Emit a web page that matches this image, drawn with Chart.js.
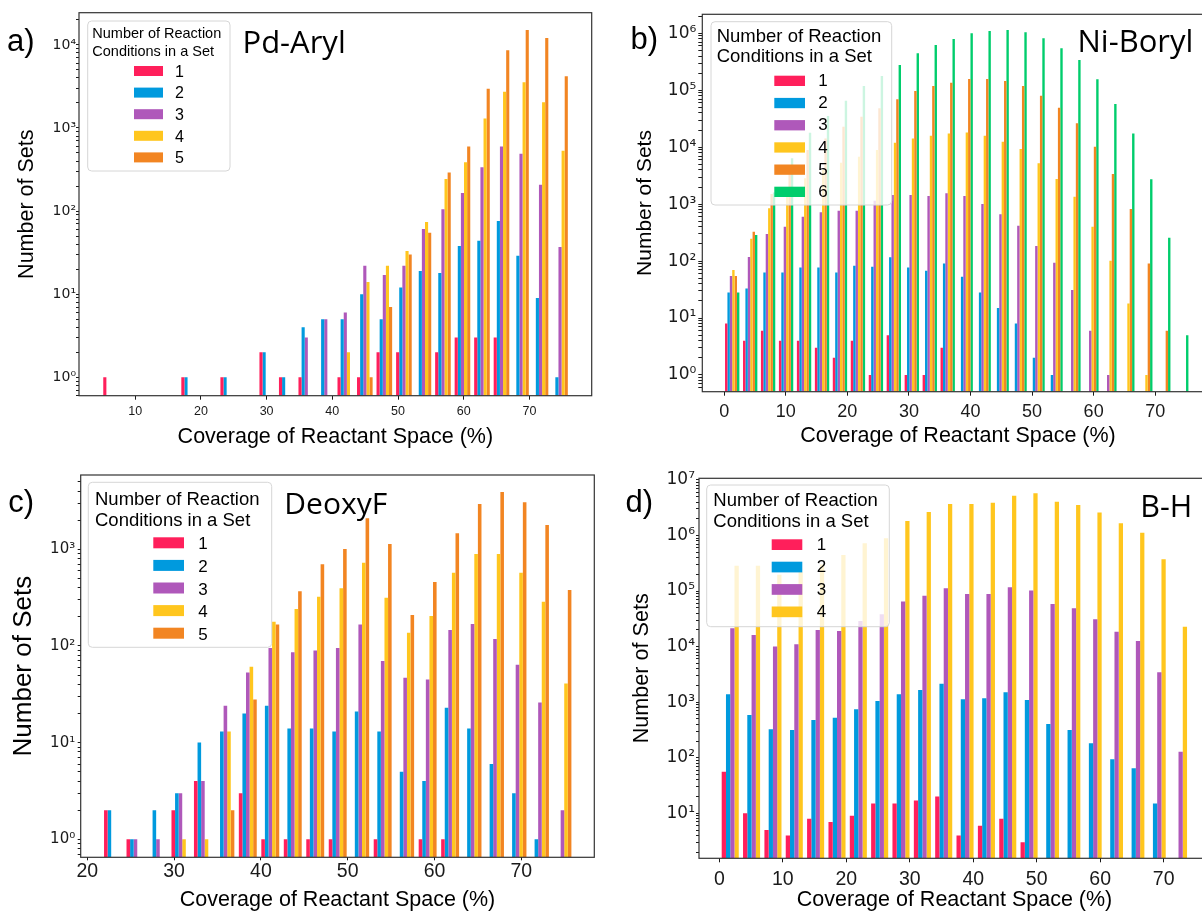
<!DOCTYPE html>
<html>
<head>
<meta charset="utf-8">
<script src="https://cdn.jsdelivr.net/npm/chart.js@4.4.1/dist/chart.umd.min.js"></script>
<style>
  html, body { margin: 0; padding: 0; background: #fff; overflow: hidden; }
  body { width: 1202px; height: 911px; position: relative; }
  .panel { position: absolute; }
  .panel canvas { display: block; }
  .tag { position: absolute; font-family: "Liberation Sans", Arial, sans-serif; line-height: 1; color: #000; white-space: nowrap; }
  .name { position: absolute; font-family: "Open Sans", sans-serif; line-height: 1; color: #000; white-space: nowrap; }
</style>
</head>
<body>
<div class="panel" style="left:0;top:0"><canvas id="ca" width="600" height="450"></canvas></div>
<div class="panel" style="left:600px;top:0"><canvas id="cb" width="622" height="450"></canvas></div>
<div class="panel" style="left:0;top:450px"><canvas id="cc" width="600" height="461"></canvas></div>
<div class="panel" style="left:600px;top:450px"><canvas id="cd" width="622" height="461"></canvas></div>

<div class="tag" style="left:7px;top:24.7px;font-size:31px">a)</div>
<div class="tag" style="left:630.5px;top:23.1px;font-size:31px">b)</div>
<div class="tag" style="left:8.3px;top:486.4px;font-size:31px">c)</div>
<div class="tag" style="left:625.5px;top:486.4px;font-size:31px">d)</div>
<div class="name" style="left:242.5px;top:26.3px;font-size:31px">Pd-Aryl</div>
<div class="name" style="left:1077.5px;top:25.3px;font-size:31px">Ni-Boryl</div>
<div class="name" style="left:284.3px;top:487.5px;font-size:30px">DeoxyF</div>
<div class="name" style="left:1140.2px;top:489.7px;font-size:30.5px">B-H</div>

<script>
/* ------------------------------- Data ------------------------------- */
const setLabels = ['1', '2', '3', '4', '5', '6'];
const setColors = ['#FF1F5B', '#009ADE', '#AF58BA', '#FFC61E', '#F28522', '#00CD6C'];

// a) Pd-Aryl, bin centres (% coverage)
const pdArylBins = [6.33, 9.30, 12.27, 15.24, 18.21, 21.19, 24.16, 27.13, 30.10, 33.07, 36.04, 39.01,
    41.98, 44.95, 47.92, 50.90, 53.87, 56.84, 59.81, 62.78, 65.75, 68.72, 71.69, 74.66];
const pdAryl1 = [1, null, null, null, 1, null, 1, null, 2, 1, 1, null, 1, 1, 2, 2, null, 2, 3, 3, 3, null, null, null];
const pdAryl2 = [null, null, null, null, 1, null, 1, null, 2, 1, 4, 5, 5, 10, 5, 12, 19, 18, 38, 44, 76, 29, 9, 1];
const pdAryl3 = [null, null, null, null, null, null, null, null, null, null, 3, 5, 6, 22, 17, 22, 61, 105, 165, 338, 598, 488, 207, 37];
const pdAryl4 = [null, null, null, null, null, null, null, null, null, null, null, null, 2, 14, 22, 33, 74, 244, 388, 1297, 2737, 3550, 2040, 531];
const pdAryl5 = [null, null, null, null, null, null, null, null, null, null, null, null, null, 1, 7, 30, 55, 291, 598, 2976, 8610, 15100, 12100, 4190];

// b) Ni-Boryl
const niBorylBins = [1.30, 4.22, 7.13, 10.05, 12.97, 15.89, 18.80, 21.72, 24.64, 27.55, 30.47, 33.39, 36.30,
    39.22, 42.14, 45.06, 47.97, 50.89, 53.81, 56.72, 59.64, 62.56, 65.47, 68.39, 71.31, 74.23];
const niBoryl1 = [8, 4, 6, 4, 4, 3, 2, 4, 1, 5, 1, 1, 3, null, null, null, null, null, null, null, null, null, null, null, null, null];
const niBoryl2 = [28, 33, 63, 63, 77, 77, 63, 83, 80, 117, 77, 68, 91, 53, 28, 15, 8, 2, 1, null, null, null, null, null, null, null];
const niBoryl3 = [55, 118, 299, 402, 603, 719, 767, 767, 1150, 1450, 1450, 1390, 1550, 1390, 1010, 664, 419, 184, 94, 31, 6, 1, null, null, null, null];
const niBoryl4 = [70, 248, 845, 1570, 2840, 4000, 5350, 6820, 8930, 12000, 14300, 15900, 17500, 18200, 15900, 12500, 9300, 5210, 2770, 1350, 402, 102, 18, 1, null, null];
const niBoryl5 = [55, 329, 1510, 3500, 8930, 14300, 22900, 34300, 48200, 69300, 97000, 119000, 136000, 158000, 158000, 145000, 119000, 80300, 49400, 26300, 10200, 3380, 822, 91, 6, null];
const niBoryl6 = [28, 287, 1600, 6390, 18000, 35300, 65600, 119000, 178000, 278000, 446000, 623000, 796000, 1000000, 1100000, 1140000, 1050000, 817000, 545000, 340000, 156000, 57400, 17500, 2730, 258, 5];

// c) DeoxyF
const deoxyFBins = [22.96, 25.55, 28.14, 30.73, 33.32, 35.91, 38.49, 41.08, 43.67, 46.26, 48.85,
    51.44, 54.03, 56.62, 59.21, 61.80, 64.38, 66.97, 69.56, 72.15, 74.74];
const deoxyF1 = [2, 1, null, 2, 4, null, 3, 1, 1, 1, 1, null, 1, null, 1, 1, null, null, null, null, null];
const deoxyF2 = [2, 1, 2, 3, 10, 13, 20, 24, 14, 14, 13, 21, 13, 5, 4, 23, 14, 6, 3, 1, null];
const deoxyF3 = [null, 1, 1, 3, 4, 24, 53, 95, 86, 90, 95, 167, 70, 47, 45, 146, 169, 118, 64, 26, 2];
const deoxyF4 = [null, null, null, 1, 1, 13, 61, 178, 241, 323, 395, 727, 316, 137, 204, 573, 894, 894, 573, 287, 41];
const deoxyF5 = [null, null, null, null, null, 2, 28, 167, 368, 700, 1007, 2090, 1134, 209, 459, 1463, 2940, 3917, 3060, 1783, 379];

// d) B-H
const bhBins = [1.72, 5.08, 8.45, 11.81, 15.17, 18.54, 21.90, 25.26, 28.62, 31.99, 35.35, 38.71,
    42.08, 45.44, 48.80, 52.17, 55.53, 58.89, 62.25, 65.62, 68.98, 72.34];
const bh1 = [56, 10, 5, 4, 8, 7, 9, 15, 15, 17, 20, 4, 6, 8, 3, null, null, null, null, null, null, null];
const bh2 = [1390, 589, 325, 316, 480, 526, 745, 1050, 1390, 1660, 2150, 1130, 1175, 1510, 1100, 405, 316, 182, 94, 65, 15, null];
const bh3 = [21400, 16200, 10000, 11000, 20000, 19100, 29000, 38200, 64600, 82600, 112000, 88700, 88700, 117000, 102000, 58600, 49000, 31000, 18600, 12600, 3450, 128];
const bh4 = [286000, 286000, 197000, 220000, 300000, 447000, 725000, 891000, 1830000, 2650000, 3700000, 3700000, 3900000, 5200000, 5760000, 4060000, 3550000, 2580000, 1660000, 1120000, 374000, 22900];

/* ------------------------------ Helpers ----------------------------- */
const ink = '#1a1a1a';
const sans = '"Liberation Sans", Arial, sans-serif';
const mathSans = '"DejaVu Sans", sans-serif';
const supDigits = { '0': '⁰', '1': '¹', '2': '²', '3': '³', '4': '⁴', '5': '⁵', '6': '⁶', '7': '⁷', '8': '⁸', '9': '⁹', '-': '⁻' };

const logLabel = (v) => {
    const e = Math.round(Math.log10(v));
    if (Math.abs(v - Math.pow(10, e)) > 1e-9 * v) return '';
    return '10' + String(e).split('').map(c => supDigits[c]).join('');
};

// 1..9 x 10^n inside the axis range, like matplotlib's log locator
const logTicks = (axis) => {
    const ticks = [];
    for (let e = Math.floor(Math.log10(axis.min)); e <= Math.ceil(Math.log10(axis.max)); e++) {
        for (let m = 1; m < 10; m++) {
            const v = m * Math.pow(10, e);
            if (v >= axis.min && v <= axis.max) ticks.push({ value: v, major: m === 1 });
        }
    }
    axis.ticks = ticks;
};

// legend box + axes frame, drawn over the bars
const makeDecor = (L) => ({
    id: 'decor',
    afterDatasetsDraw(chart) {
        const { ctx, chartArea: a } = chart;
        ctx.save();
        ctx.beginPath();
        ctx.roundRect(L.x, L.y, L.w, L.h, 4);
        ctx.fillStyle = 'rgba(255,255,255,0.8)';
        ctx.fill();
        ctx.strokeStyle = '#d6d6d6';
        ctx.lineWidth = 1;
        ctx.stroke();

        ctx.textAlign = 'left';
        ctx.textBaseline = 'alphabetic';
        ctx.fillStyle = '#000';
        ctx.font = `${L.titleSize}px ${sans}`;
        L.title.forEach((t, i) => ctx.fillText(t, L.titleX, L.titleY + i * L.titleStep));

        ctx.font = `${L.labelSize}px ${sans}`;
        chart.data.datasets.forEach((ds, i) => {
            ctx.fillStyle = ds.backgroundColor;
            ctx.fillRect(L.swX, L.swY + i * L.step, L.swW, L.swH);
            ctx.fillStyle = '#000';
            ctx.fillText(ds.label, L.labelX, L.labelY + i * L.step);
        });

        ctx.strokeStyle = '#333';
        ctx.lineWidth = 1.2;
        ctx.strokeRect(a.left, a.top, a.right - a.left, a.bottom - a.top);
        ctx.restore();
    }
});

const makePanel = (p) => {
    const datasets = p.series.map((vals, i) => ({
        label: setLabels[i],
        data: p.bins.map((x, j) => ({ x, y: vals[j] })),
        backgroundColor: setColors[i],
        borderWidth: 0,
        categoryPercentage: 0.8,
        barPercentage: 1.0
    }));

    new Chart(document.getElementById(p.id), {
        type: 'bar',
        data: { datasets },
        options: {
            responsive: false,
            animation: false,
            events: [],
            layout: { padding: { left: 0, top: p.area.top, right: p.w - p.area.right, bottom: 0 } },
            plugins: { legend: { display: false }, tooltip: { enabled: false } },
            scales: {
                x: {
                    type: 'linear',
                    min: p.xMin,
                    max: p.xMax,
                    offset: false,
                    afterFit: (s) => { s.height = p.h - p.area.bottom; },
                    grid: { drawOnChartArea: false, offset: false, tickLength: p.xTick, color: ink, tickColor: ink },
                    border: { display: false },
                    ticks: {
                        stepSize: 10, includeBounds: false, autoSkip: false, maxRotation: 0,
                        padding: p.xPad, color: ink, font: { family: sans, size: p.xTickSize }
                    },
                    title: {
                        display: true, text: 'Coverage of Reactant Space (%)', color: '#000',
                        font: { family: sans, size: p.xTitleSize, lineHeight: 1 },
                        padding: { top: 0, bottom: p.xTitlePad }
                    }
                },
                y: {
                    type: 'logarithmic',
                    min: p.yMin,
                    max: p.yMax,
                    afterFit: (s) => { s.width = p.area.left; },
                    afterBuildTicks: logTicks,
                    grid: { drawOnChartArea: false, tickLength: p.yTick, color: ink, tickColor: ink },
                    border: { display: false },
                    ticks: {
                        autoSkip: false, padding: p.yPad, color: ink,
                        font: { family: mathSans, size: p.yTickSize },
                        callback: logLabel
                    },
                    title: {
                        display: true, text: 'Number of Sets', color: '#000',
                        font: { family: sans, size: p.yTitleSize, lineHeight: 1 },
                        padding: { top: p.yTitlePad, bottom: 0 }
                    }
                }
            }
        },
        plugins: [makeDecor(p.legend)]
    });
};

const legendTitle = ['Number of Reaction', 'Conditions in a Set'];

/* ------------------------------- Panels ------------------------------ */
makePanel({
    id: 'ca', w: 600, h: 450,
    area: { left: 79, top: 12.7, right: 591.7, bottom: 395.7 },
    bins: pdArylBins, series: [pdAryl1, pdAryl2, pdAryl3, pdAryl4, pdAryl5],
    xMin: 1.45, xMax: 79.48, yMin: 0.608, yMax: 24400,
    xTickSize: 12.5, xTick: 4, xPad: 4, yTickSize: 14, yTick: 3, yPad: 0,
    xTitleSize: 21.5, xTitlePad: 2.25, yTitleSize: 21.5, yTitlePad: 16.7,
    legend: { x: 87.7, y: 21, w: 142.3, h: 150, title: legendTitle, titleX: 92.3, titleY: 38.3, titleStep: 17.7, titleSize: 14.5,
        swX: 134, swW: 29, swY: 66, swH: 10, step: 21.6, labelX: 175, labelY: 76.7, labelSize: 16 }
});

makePanel({
    id: 'cb', w: 622, h: 450,
    area: { left: 102.3, top: 14.3, right: 613.7, bottom: 391.7 },
    bins: niBorylBins, series: [niBoryl1, niBoryl2, niBoryl3, niBoryl4, niBoryl5, niBoryl6],
    xMin: -3.557, xMax: 79.5, yMin: 0.509, yMax: 2.16e6,
    xTickSize: 18, xTick: 4, xPad: 6, yTickSize: 17, yTick: 4, yPad: 2,
    xTitleSize: 21.5, xTitlePad: 3.5, yTitleSize: 21, yTitlePad: 34.5,
    legend: { x: 111, y: 21.7, w: 180.7, h: 183.3, title: legendTitle, titleX: 116.7, titleY: 41.7, titleStep: 20.6, titleSize: 18.5,
        swX: 174.3, swW: 30.7, swY: 75.7, swH: 10.3, step: 22.2, labelX: 218.3, labelY: 86, labelSize: 17 }
});

makePanel({
    id: 'cc', w: 600, h: 461,
    area: { left: 80.7, top: 25, right: 594.3, bottom: 407.3 },
    bins: deoxyFBins, series: [deoxyF1, deoxyF2, deoxyF3, deoxyF4, deoxyF5],
    xMin: 19.24, xMax: 78.41, yMin: 0.651, yMax: 5870,
    xTickSize: 19.5, xTick: 3, xPad: 0, yTickSize: 15, yTick: 3, yPad: 2.5,
    xTitleSize: 21.5, xTitlePad: 0, yTitleSize: 26, yTitlePad: 11,
    legend: { x: 88.3, y: 32.3, w: 183.4, h: 165, title: legendTitle, titleX: 95, titleY: 55, titleStep: 21, titleSize: 18.5,
        swX: 153.3, swW: 30.7, swY: 87.3, swH: 11, step: 22.6, labelX: 198.3, labelY: 99.3, labelSize: 17 }
});

makePanel({
    id: 'cd', w: 622, h: 461,
    area: { left: 99, top: 28.3, right: 610, bottom: 408.3 },
    bins: bhBins, series: [bh1, bh2, bh3, bh4],
    xMin: -3.2, xMax: 77.3, yMin: 1.55, yMax: 1.07e7,
    xTickSize: 19.5, xTick: 4, xPad: 6, yTickSize: 17, yTick: 3, yPad: 1,
    xTitleSize: 21.5, xTitlePad: 0.25, yTitleSize: 21.6, yTitlePad: 30.9,
    legend: { x: 106.7, y: 35, w: 182.6, h: 141.7, title: legendTitle, titleX: 113.3, titleY: 56, titleStep: 21.3, titleSize: 18.5,
        swX: 171.7, swW: 30.6, swY: 89.3, swH: 10.7, step: 22.4, labelX: 216.7, labelY: 100, labelSize: 17 }
});
</script>
</body>
</html>
